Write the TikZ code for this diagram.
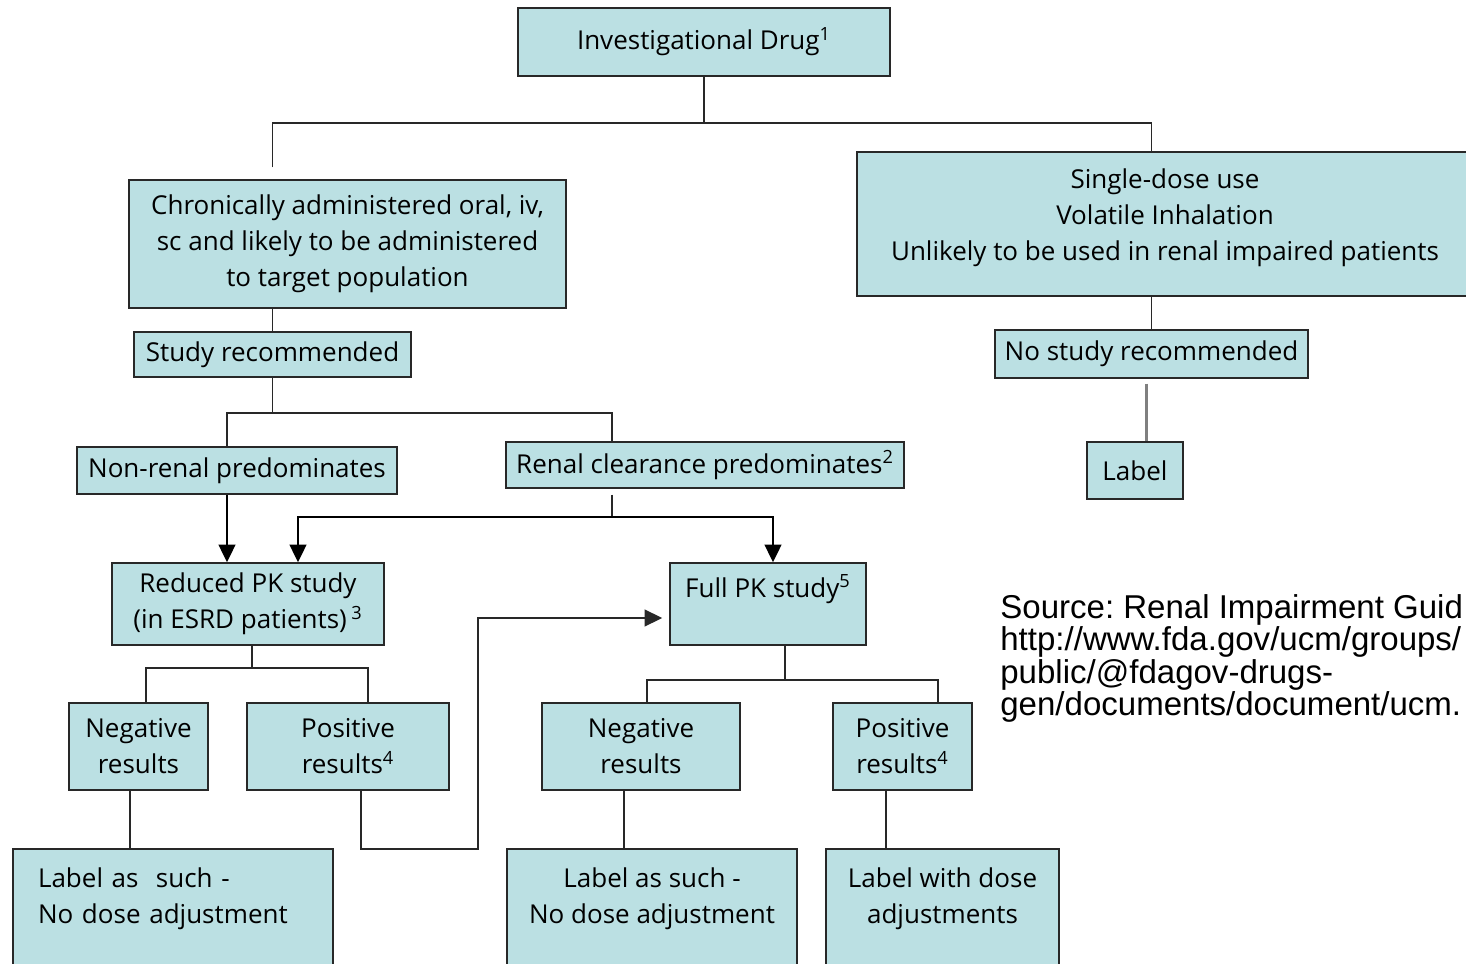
\documentclass[tikz,border=0pt]{standalone}
\usepackage{fontspec}
\setmainfont{Open Sans}
\newfontfamily\srcfont{Liberation Sans}
\usepackage{tikz}
\usetikzlibrary{arrows.meta}
\definecolor{boxblue}{RGB}{187,224,227}
\definecolor{edgegray}{RGB}{40,40,40}
\frenchspacing
\tikzset{
  flowbox/.style={
    rectangle,
    draw=edgegray,
    line width=0.85pt,
    fill=boxblue,
    align=center,
    inner sep=0pt,
    font=\fontsize{14.8}{20.5}\selectfont
  },
  link/.style={line width=0.85pt, edgegray},
  flow/.style={-{Triangle[length=10pt,width=9.5pt]}, line width=1.1pt, black},
  graylink/.style={line width=1.6pt, black!50},
  srctext/.style={align=left, inner sep=0pt, font=\srcfont\fontsize{18.8}{16.5}\selectfont}
}

\begin{document}
\begin{tikzpicture}[x=0.02cm, y=-0.02cm]
\useasboundingbox (0,0) rectangle (1466,963);
\clip (0,0) rectangle (1466,963);

% boxes
\node[flowbox, minimum width=7.44cm, minimum height=1.36cm] (inv) at (704,42) {Investigational Drug\textsuperscript{1}};
\node[flowbox, minimum width=8.74cm, minimum height=2.56cm] (chron) at (347.5,244) {Chronically administered oral, iv,\\sc and likely to be administered\\to target population};
\node[flowbox, minimum width=12.32cm, minimum height=2.88cm] (single) at (1165,224) {Single-dose use\\Volatile Inhalation\\Unlikely to be used in renal impaired patients\\[-0.36cm]\mbox{}};
\node[flowbox, minimum width=5.54cm, minimum height=0.9cm] (studyrec) at (272.5,354.5) {Study recommended};
\node[flowbox, minimum width=6.26cm, minimum height=0.96cm] (norec) at (1151.5,354) {No study recommended};
\node[flowbox, minimum width=1.92cm, minimum height=1.14cm] (labelR) at (1135,470.5) {Label};
\node[flowbox, minimum width=6.4cm, minimum height=0.94cm] (nonrenal) at (237,470.5) {Non-renal predominates};
\node[flowbox, minimum width=7.96cm, minimum height=0.92cm] (renal) at (705,465) {Renal clearance predominates\textsuperscript{2}};
\node[flowbox, minimum width=5.44cm, minimum height=1.64cm] (reduced) at (248,604) {Reduced PK study\\(in ESRD patients)\,\textsuperscript{3}};
\node[flowbox, minimum width=3.92cm, minimum height=1.64cm] (full) at (768,604) {Full PK study\textsuperscript{5}\\ \mbox{}};
\node[flowbox, minimum width=2.78cm, minimum height=1.74cm] (neg1) at (138.5,746.5) {Negative\\results};
\node[flowbox, minimum width=4.04cm, minimum height=1.74cm] (pos1) at (348,746.5) {Positive\\results\textsuperscript{4}};
\node[flowbox, minimum width=3.96cm, minimum height=1.74cm] (neg2) at (641,746.5) {Negative\\results};
\node[flowbox, minimum width=2.78cm, minimum height=1.74cm] (pos2) at (902.5,746.5) {Positive\\results\textsuperscript{4}};
\node[flowbox, align=left, text width=5.4cm, minimum width=6.4cm, minimum height=2.6cm] (lab1) at (173,914) {Label as\ \ such -\\No dose adjustment\\ \mbox{}};
\node[flowbox, minimum width=5.8cm, minimum height=2.6cm] (lab2) at (652,914) {Label as such -\\No dose adjustment\\ \mbox{}};
\node[flowbox, minimum width=4.66cm, minimum height=2.6cm] (lab3) at (942.5,914) {Label with dose\\adjustments\\ \mbox{}};

\node[srctext, anchor=north west] (src) at (1000,594) {Source: Renal Impairment Guid\\http://www.fda.gov/ucm/groups/\\public/@fdagov-drugs-\\gen/documents/document/ucm.};

% joints
\coordinate (jtop) at (704,123);
\coordinate (jnr) at (227,413);
\coordinate (jrc) at (612,413);
\coordinate (jrenal) at (612,517);
\coordinate (jra) at (298,517);
\coordinate (jred) at (252,668);
\coordinate (jneg1) at (146,668);
\coordinate (jpos1) at (368,668);
\coordinate (jfull) at (785,680);
\coordinate (jneg2) at (647,680);
\coordinate (jpos2) at (938,680);
\coordinate (jloop) at (478,849);

% connectors
\draw[link] (inv) -- (jtop);
\draw[link] ([yshift=0.24cm]chron.north -| studyrec) |- (jtop) -| (single.north -| norec);
\draw[link] (chron.south -| studyrec) -- (studyrec.north);
\draw[link] (studyrec.south) -- (studyrec.south |- jnr);
\draw[link] (jnr |- nonrenal.north) -- (jnr) -- (jrc) -- (jrc |- renal.north);
\draw[link] ([yshift=-0.12cm]renal.south -| jrc) -- (jrenal);
\draw[flow] (jrenal) -| (full.north -| 773,0);
\draw[flow] (jrenal) -| (reduced.north -| jra);
\draw[flow] (nonrenal.south -| jnr) -- (reduced.north -| jnr);
\draw[link] (reduced.south -| jred) -- (jred);
\draw[link] (jneg1 |- neg1.north) -- (jneg1) -- (jpos1) -- (jpos1 |- pos1.north);
\draw[link] (full.south -| jfull) -- (jfull);
\draw[link] (jneg2 |- neg2.north) -- (jneg2) -- (jpos2) -- (jpos2 |- pos2.north);
\draw[link] ([xshift=-0.17cm]neg1.south) -- ([xshift=-0.17cm]neg1.south |- lab1.north);
\draw[link] ([xshift=-0.34cm]neg2.south) -- ([xshift=-0.34cm]neg2.south |- lab2.north);
\draw[link] ([xshift=-0.33cm]pos2.south) -- ([xshift=-0.33cm]pos2.south |- lab3.north);
\draw[link, -{Triangle[length=10pt,width=9.5pt]}] ([xshift=0.26cm]pos1.south) |- (jloop) |- ([xshift=-0.14cm, yshift=-0.28cm]full.west);
\draw[link] (single.south -| norec) -- (norec.north);
\draw[graylink] ([xshift=-0.1cm, yshift=-0.1cm]norec.south) -- ([xshift=-0.1cm]norec.south |- labelR.north);
\end{tikzpicture}
\end{document}
